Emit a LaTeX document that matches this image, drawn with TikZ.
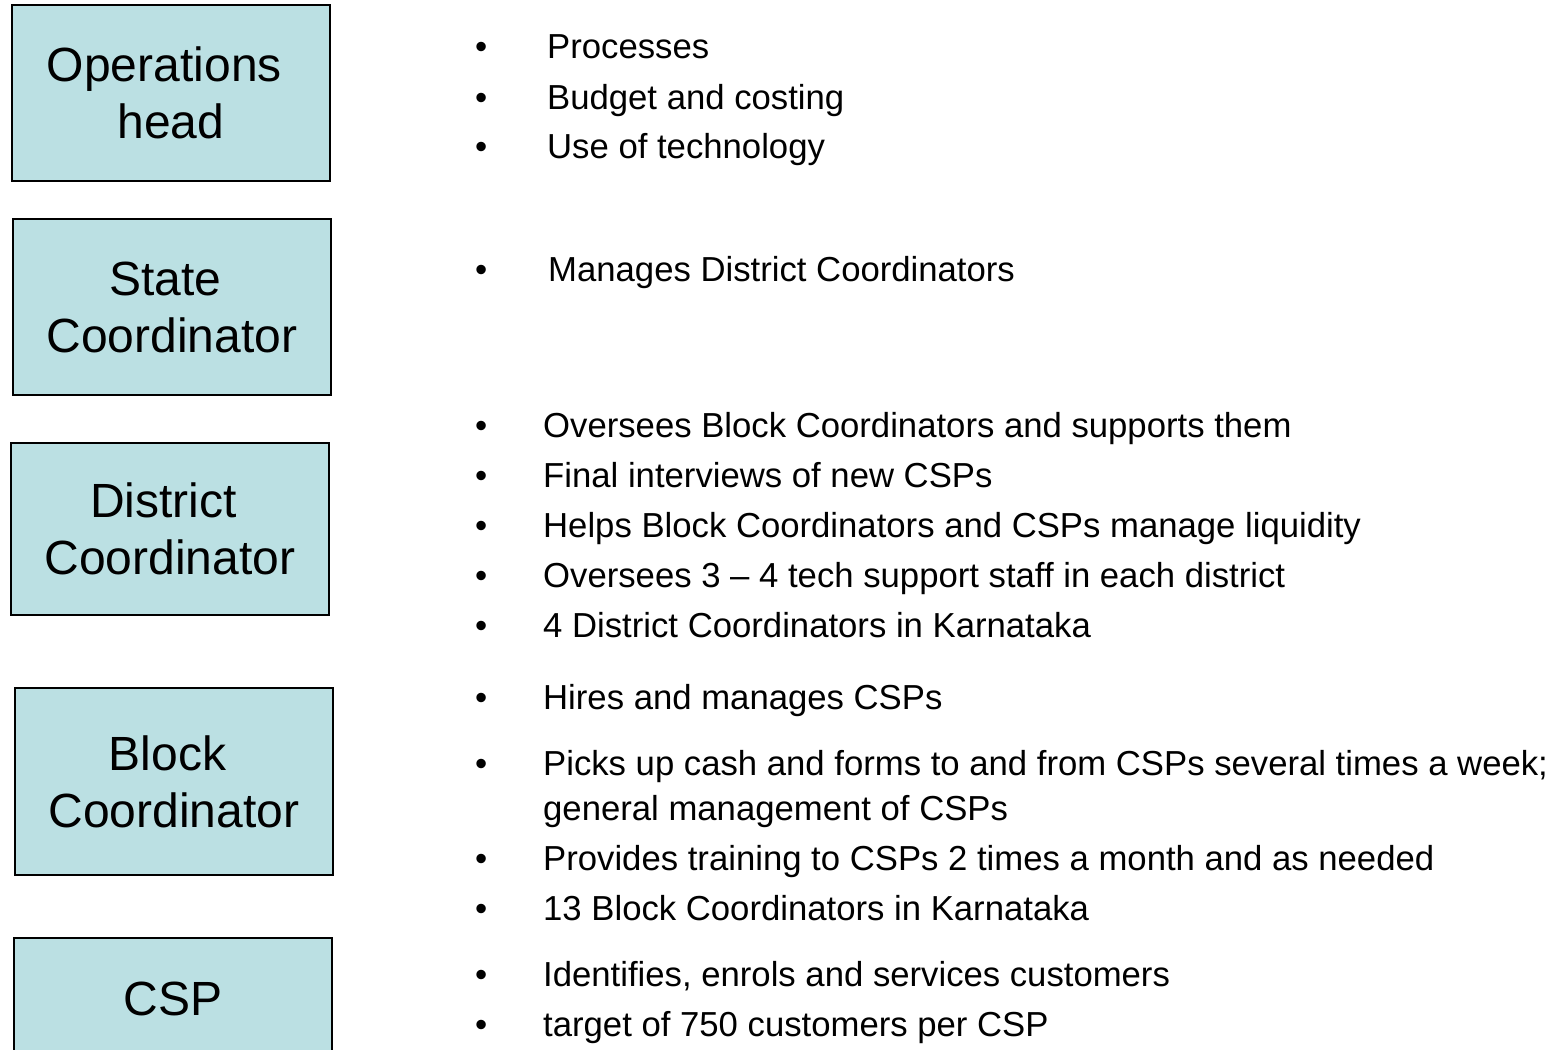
\documentclass[tikz,border=0pt]{standalone}
\usepackage{fontspec}
\setmainfont{Liberation Sans}
\definecolor{boxfill}{HTML}{BBE0E3}
\newcommand{\bul}[1]{\makebox[#1][l]{\textbullet}}
\newcommand{\trail}{\hspace*{.278em}}
\tikzset{
  role/.style={draw, line width=1.5pt, fill=boxfill, minimum width=318pt, align=center,
    inner sep=0pt, font=\fontsize{48}{57}\selectfont},
  item/.style={anchor=base west, inner sep=0pt, font=\fontsize{34.7}{40}\selectfont}
}

\begin{document}
\begin{tikzpicture}[x=1pt,y=-1pt]
    \useasboundingbox (0,0) rectangle (1559,1050);
    \clip (0,0) rectangle (1559,1050);
    % role boxes
    \node[role, minimum height=176pt] (O) at (171,93) {Operations\trail\\head};
    \node[role, minimum height=176pt] (S) at (172,307) {State\trail\\Coordinator};
    \node[role, minimum height=172pt] (D) at (170,529) {District\trail\\Coordinator};
    \node[role, minimum height=187pt] (B) at (174,781.5) {Block\trail\\Coordinator};
    \node[role, minimum height=122pt] (C) at (173,999) {CSP};
    % duties
    \node[item] (O1) at (475,58) {\bul{72pt}Processes};
    \node[item] (O2) at (475,109) {\bul{72pt}Budget and costing};
    \node[item] (O3) at (475,158) {\bul{72pt}Use of technology};
    \node[item] (S1) at (475,281) {\bul{73pt}Manages District Coordinators};
    \node[item] (D1) at (475,437) {\bul{68pt}Oversees Block Coordinators and supports them};
    \node[item] (D2) at (475,487) {\bul{68pt}Final interviews of new CSPs};
    \node[item] (D3) at (475,537) {\bul{68pt}Helps Block Coordinators and CSPs manage liquidity};
    \node[item] (D4) at (475,587) {\bul{68pt}Oversees 3 -- 4 tech support staff in each district};
    \node[item] (D5) at (475,637) {\bul{68pt}4 District Coordinators in Karnataka};
    \node[item] (B1) at (475,709) {\bul{68pt}Hires and manages CSPs};
    \node[item] (B2) at (475,775) {\bul{68pt}Picks up cash and forms to and from CSPs several times a week;};
    \node[item] (B2b) at (543,820) {general management of CSPs};
    \node[item] (B3) at (475,870) {\bul{68pt}Provides training to CSPs 2 times a month and as needed};
    \node[item] (B4) at (475,920) {\bul{68pt}13 Block Coordinators in Karnataka};
    \node[item] (C1) at (475,986) {\bul{68pt}Identifies, enrols and services customers};
    \node[item] (C2) at (475,1036) {\bul{68pt}target of 750 customers per CSP};
\end{tikzpicture}
\end{document}
